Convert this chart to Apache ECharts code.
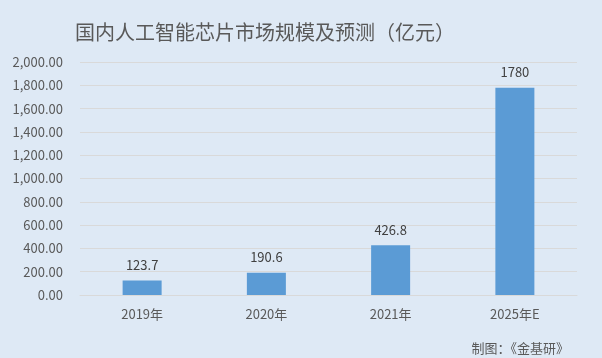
<!DOCTYPE html>
<html><head><meta charset="utf-8">
<script src="https://cdn.jsdelivr.net/npm/echarts@6/dist/echarts.min.js"></script>
<style>html,body{margin:0;padding:0;background:#dee9f5;}#c{width:602px;height:358px;}</style>
</head><body><div id="c"></div>
<script>
const categories = ['2019年', '2020年', '2021年', '2025年E'];
const values = [123.7, 190.6, 426.8, 1780];
const valueLabels = ['123.7', '190.6', '426.8', '1780'];
const chart = echarts.init(document.getElementById('c'), null, {renderer: 'canvas'});
const font = '"Microsoft YaHei","Noto Sans CJK SC",sans-serif';
chart.setOption({
  backgroundColor: '#dee9f5',
  animation: false,
  title: [{
    text: '国内人工智能芯片市场规模及预测（亿元）',
    left: 70, top: 17,
    textStyle: {fontSize: 20, fontWeight: 'normal', color: '#595959', fontFamily: font}
  }, {
    text: '制图：《金基研》',
    right: 28, top: 337,
    textStyle: {fontSize: 13, fontWeight: 'normal', color: '#595959', fontFamily: font}
  }],
  grid: {left: 80, right: 25, top: 62, bottom: 63},
  xAxis: {
    type: 'category', data: categories,
    axisLine: {show: true, lineStyle: {color: '#d9d9d9'}},
    axisTick: {show: false},
    axisLabel: {color: '#595959', fontSize: 13, margin: 13, fontFamily: font}
  },
  yAxis: {
    type: 'value', min: 0, max: 2000, interval: 200,
    axisLine: {show: false}, axisTick: {show: false},
    splitLine: {lineStyle: {color: '#d9d9d9'}},
    axisLabel: {color: '#595959', fontSize: 13, margin: 17, fontFamily: font,
      formatter: v => v.toLocaleString('en-US', {minimumFractionDigits: 2, maximumFractionDigits: 2})}
  },
  series: [{
    type: 'bar', data: values, barWidth: 39,
    itemStyle: {color: '#5b9bd5'},
    label: {show: true, position: 'top', distance: 9, color: '#404040', fontSize: 13, fontFamily: font,
      formatter: p => valueLabels[p.dataIndex]}
  }]
});
</script></body></html>
